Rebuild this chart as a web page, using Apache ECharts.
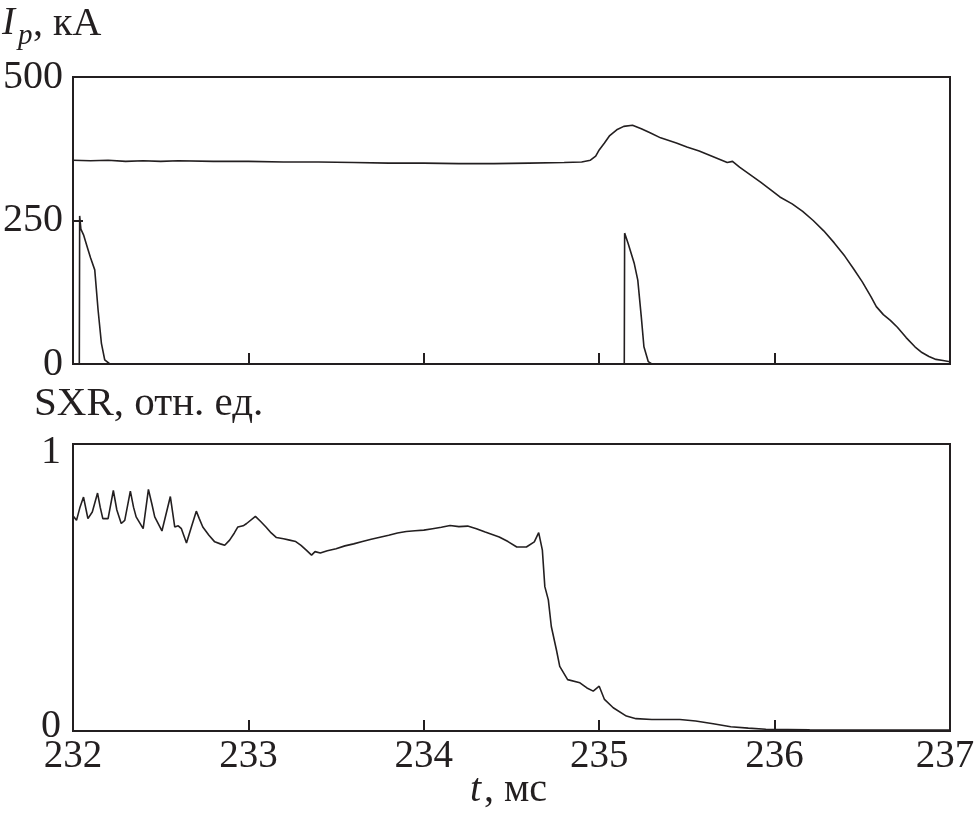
<!DOCTYPE html>
<html>
<head>
<meta charset="utf-8">
<script src="https://cdn.jsdelivr.net/npm/echarts@6/dist/echarts.min.js"></script>
<style>
html,body{margin:0;padding:0;background:#fff;}
#chart{width:977px;height:813px;}
</style>
</head>
<body>
<div id="chart"></div>
<script>
// ---- Data (time in ms) ----
const xTicks = [232, 233, 234, 235, 236, 237];
const ipTicks = [0, 250, 500];
const sxrTicks = [0, 1];

// Plasma current Ip, kA
const ipT = [232.0,232.1,232.2,232.3,232.4,232.5,232.6,232.8,233.0,233.2,233.4,233.6,233.8,234.0,234.2,234.4,234.6,234.8,234.9,234.95,234.98,235.0,235.03,235.06,235.1,235.14,235.19,235.24,235.29,235.35,235.44,235.5,235.57,235.65,235.73,235.76,235.8,235.86,235.92,235.98,236.03,236.1,236.16,236.22,236.28,236.34,236.4,236.45,236.5,236.55,236.58,236.62,236.66,236.7,236.75,236.8,236.84,236.88,236.92,236.96,237.0];
const ipV = [355,354,355,353,354,353,354,353,353,352,352,351,350,350,349,349,350,351,352,355,362,373,385,398,408,414,416,410,403,394,385,378,371,361,351,353,343,330,317,303,291,279,266,250,232,211,188,166,143,117,100,86,76,64,46,30,20,13,8,6,4];

// Pulse signal (top panel, lower trace)
const pulseT = [232.0,232.036,232.038,232.045,232.06,232.085,232.1,232.124,232.143,232.162,232.181,232.21,235.143,235.145,235.165,235.2,235.22,235.24,235.255,235.28,235.3,237.0];
const pulseV = [0,0,258,235,225,200,185,164,94,36,7,0,0,228,210,175,146,82,30,4,0,0];

// SXR, rel. units
const sxrT = [232.0,232.02,232.04,232.06,232.075,232.085,232.11,232.14,232.155,232.17,232.2,232.23,232.25,232.275,232.295,232.327,232.345,232.36,232.4,232.43,232.45,232.466,232.507,232.555,232.58,232.6,232.618,232.647,232.675,232.703,232.72,232.74,232.775,232.808,232.84,232.865,232.893,232.92,232.94,232.97,232.99,233.04,233.07,233.1,233.13,233.16,233.2,233.235,233.27,233.3,233.33,233.36,233.38,233.41,233.45,233.5,233.55,233.6,233.65,233.7,233.75,233.8,233.85,233.9,233.95,234.0,234.05,234.1,234.15,234.2,234.25,234.3,234.35,234.43,234.48,234.53,234.585,234.63,234.655,234.676,234.69,234.71,234.727,234.756,234.775,234.82,234.89,234.93,234.966,235.0,235.03,235.08,235.155,235.21,235.3,235.46,235.55,235.65,235.75,235.85,235.95,236.2,236.6,237.0];
const sxrV = [0.75,0.734,0.78,0.815,0.77,0.74,0.763,0.829,0.78,0.74,0.74,0.838,0.77,0.723,0.734,0.836,0.78,0.746,0.705,0.842,0.79,0.746,0.697,0.817,0.711,0.715,0.705,0.655,0.711,0.766,0.74,0.711,0.682,0.659,0.652,0.647,0.665,0.69,0.711,0.715,0.723,0.748,0.73,0.711,0.69,0.674,0.67,0.665,0.66,0.647,0.63,0.613,0.625,0.62,0.628,0.635,0.645,0.652,0.66,0.668,0.675,0.682,0.69,0.695,0.698,0.70,0.705,0.71,0.716,0.712,0.714,0.705,0.693,0.676,0.66,0.641,0.641,0.659,0.691,0.63,0.503,0.457,0.364,0.283,0.225,0.179,0.168,0.15,0.139,0.156,0.11,0.081,0.052,0.043,0.04,0.04,0.035,0.025,0.015,0.01,0.006,0.004,0.003,0.003];

const zip = (a, b) => a.map((t, i) => [t, b[i]]);
const INK = '#231f20';
const FONT = 'Liberation Serif';
const LBL = 39;

const chart = echarts.init(document.getElementById('chart'), null, {renderer: 'canvas'});

const xAxisBase = (gridIndex, showLabel) => ({
  gridIndex, type: 'value', min: xTicks[0], max: xTicks[xTicks.length - 1], interval: 1,
  axisLine: {show: false},
  axisTick: {show: true, inside: true, length: 11, lineStyle: {color: INK, width: 2}},
  splitLine: {show: false},
  axisLabel: {show: showLabel, color: INK, fontFamily: FONT, fontSize: LBL, margin: 6,
    formatter: v => v === xTicks[xTicks.length - 1] ? '{r|' + v + '}' : '{n|' + v + '}',
    rich: {
      n: {fontFamily: FONT, fontSize: LBL, color: INK},
      r: {fontFamily: FONT, fontSize: LBL, color: INK, padding: [0, 10, 0, 0]}
    }}
});

const gridBase = top => ({
  left: 73, right: 27, top, height: 287, show: true, borderColor: INK, borderWidth: 2,
  backgroundColor: 'transparent', containLabel: false, outerBoundsMode: 'none'
});

chart.setOption({
  animation: false,
  backgroundColor: '#fff',
  grid: [gridBase(77), gridBase(444)],
  xAxis: [xAxisBase(0, false), xAxisBase(1, true)],
  yAxis: [
    {gridIndex: 0, type: 'value', min: ipTicks[0], max: ipTicks[2], interval: ipTicks[1] - ipTicks[0],
     axisLine: {show: false}, splitLine: {show: false},
     axisTick: {show: true, inside: true, length: 10, lineStyle: {color: INK, width: 2}},
     axisLabel: {color: INK, fontFamily: FONT, fontSize: 40, margin: 10}},
    {gridIndex: 1, type: 'value', min: sxrTicks[0], max: sxrTicks[1], interval: 1,
     axisLine: {show: false}, splitLine: {show: false}, axisTick: {show: false},
     axisLabel: {color: INK, fontFamily: FONT, fontSize: 40, margin: 12,
       formatter: v => v === 0 ? '{lo|0}' : '{hi|1}',
       rich: {
         lo: {fontFamily: FONT, fontSize: 40, color: INK, padding: [0, 0, 10, 0]},
         hi: {fontFamily: FONT, fontSize: 40, color: INK, padding: [16, 0, 0, 0]}
       }}}
  ],
  series: [
    {type: 'line', xAxisIndex: 0, yAxisIndex: 0, data: zip(ipT, ipV), showSymbol: false, lineStyle: {color: INK, width: 1.6}, silent: true},
    {type: 'line', xAxisIndex: 0, yAxisIndex: 0, data: zip(pulseT, pulseV), showSymbol: false, lineStyle: {color: INK, width: 1.6}, silent: true},
    {type: 'line', xAxisIndex: 1, yAxisIndex: 1, data: zip(sxrT, sxrV), showSymbol: false, lineStyle: {color: INK, width: 1.6}, silent: true}
  ],
  graphic: [
    {type: 'text', x: 2, y: 4, style: {text: 'I', font: 'italic 39px "Liberation Serif"', fill: INK}},
    {type: 'text', x: 18, y: 22, style: {text: 'p', font: 'italic 29px "Liberation Serif"', fill: INK}},
    {type: 'text', x: 33, y: 4, style: {text: ', кА', font: '40px "Liberation Serif"', fill: INK}},
    {type: 'text', x: 34, y: 384, style: {text: 'SXR, отн. ед.', font: '41px "Liberation Serif"', fill: INK}},
    {type: 'text', x: 470, y: 770, style: {text: 't', font: 'italic 40px "Liberation Serif"', fill: INK}},
    {type: 'text', x: 484, y: 770, style: {text: ', мс', font: '40px "Liberation Serif"', fill: INK}}
  ]
});
</script>
</body>
</html>
